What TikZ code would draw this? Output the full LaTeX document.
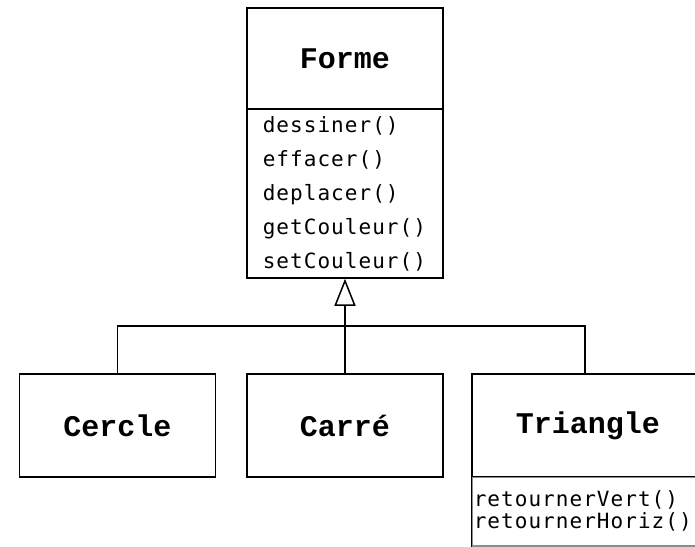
\documentclass[tikz,border=0pt]{standalone}
\usepackage{fontspec}
\newfontfamily\titlefont{Liberation Mono}
\newfontfamily\opsfont{DejaVu Sans Mono}[LetterSpace=5]
\usetikzlibrary{arrows.meta}

\begin{document}
\begin{tikzpicture}[x=1pt, y=-1pt, line width=1.5pt,
        classbox/.style={draw, rectangle, inner sep=0pt, minimum width=196pt,
            font=\titlefont\bfseries\fontsize{30}{36}\selectfont},
        opsbox/.style={draw, rectangle, inner sep=0pt, minimum width=196pt},
        op/.style={anchor=base west, inner sep=0pt,
            font=\opsfont\fontsize{21}{25}\selectfont}]
        \useasboundingbox (0,0) rectangle (695,546);

        % classe mere
        \node[classbox, minimum height=101pt] (forme) at (345,58.5) {Forme};
        \node[opsbox, minimum height=169pt] (formeops) at (345,193.5) {};

        \node[op] (dessiner) at (262,132) {dessiner()};
        \node[op] (effacer) at (262,166) {effacer()};
        \node[op] (deplacer) at (262,200) {deplacer()};
        \node[op] (getcoul) at (262,234) {getCouleur()};
        \node[op] (setcoul) at (262,268) {setCouleur()};

        % classes filles
        \node[classbox, minimum height=103pt] (cercle) at (117.5,425.5) {Cercle};
        \node[classbox, minimum height=103pt] (carre) at (345,425.5) {Carré};
        \node[classbox, minimum width=232pt, minimum height=103pt] (triangle) at (588,425.5) {Triangle};
        \node[opsbox, minimum width=232pt, minimum height=69pt, draw=black!45] (triangleops) at (588,511.5) {};
        \draw (triangleops.south west) -- (triangleops.north west) -- (triangleops.north east);

        \node[op] (retvert) at (473,506) {retournerVert()};
        \node[op] (rethoriz) at (473,528) {retournerHoriz()};

        % heritage
        \coordinate (fork) at (345,326);
        \draw[-{Triangle[open, length=27pt, width=21pt]}] (carre.north) -- (formeops.south);
        \draw (cercle.north) |- (fork) -| ([xshift=-3pt]triangle.north);
    \end{tikzpicture}
\end{document}
